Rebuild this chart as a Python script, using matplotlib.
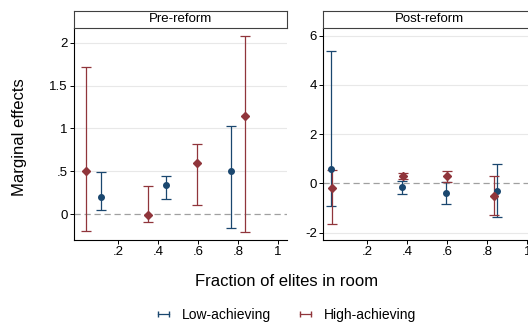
import numpy as np
import matplotlib.pyplot as plt
from matplotlib.lines import Line2D

# data: marginal effects with confidence intervals
pre_low_x = [0.115, 0.44, 0.763]
pre_low_y = [0.20, 0.34, 0.50]
pre_low_lo = [0.05, 0.18, -0.16]
pre_low_hi = [0.49, 0.44, 1.03]

pre_high_x = [0.042, 0.352, 0.593, 0.835]
pre_high_y = [0.50, -0.01, 0.60, 1.14]
pre_high_lo = [-0.20, -0.09, 0.11, -0.21]
pre_high_hi = [1.72, 0.33, 0.82, 2.08]

post_low_x = [0.02, 0.372, 0.595, 0.85]
post_low_y = [0.57, -0.16, -0.38, -0.30]
post_low_lo = [-0.90, -0.42, -0.82, -1.35]
post_low_hi = [5.37, 0.10, 0.05, 0.77]

post_high_x = [0.023, 0.377, 0.60, 0.835]
post_high_y = [-0.20, 0.30, 0.28, -0.50]
post_high_lo = [-1.63, 0.18, 0.05, -1.30]
post_high_hi = [0.55, 0.42, 0.52, 0.28]

x_ticks = [0.2, 0.4, 0.6, 0.8, 1.0]
x_ticklabels = [".2", ".4", ".6", ".8", "1"]
pre_yticks = [0, 0.5, 1, 1.5, 2]
pre_yticklabels = ["0", ".5", "1", "1.5", "2"]
post_yticks = [-2, 0, 2, 4, 6]
post_yticklabels = ["-2", "0", "2", "4", "6"]

blue = "#1a476f"
red = "#90353b"

plt.rcParams['font.family'] = ['Liberation Sans', 'DejaVu Sans']

W, H = 528, 323
fig = plt.figure(figsize=(W / 100, H / 100), dpi=100)
fig.patch.set_facecolor("white")


def px(x0, y0, x1, y1):
    # pixel box -> figure fraction rect
    return [x0 / W, 1 - y1 / H, (x1 - x0) / W, (y1 - y0) / H]


def draw_panel(ax, lx, ly, llo, lhi, hx, hy, hlo, hhi, ylim, yticks, yticklabels):
    ax.set_ylim(*ylim)
    ax.set_xlim(-0.02, 1.045)
    ax.set_yticks(yticks)
    ax.set_yticklabels(yticklabels)
    ax.set_xticks(x_ticks)
    ax.set_xticklabels(x_ticklabels)
    for t in yticks:
        if t != 0:
            ax.axhline(t, color="#e8e8e8", lw=0.8, zorder=0)
    ax.axhline(0, color="#a0a0a0", lw=0.9, ls=(0, (5, 3)), zorder=1)
    ly, lx = np.array(ly), np.array(lx)
    hy, hx = np.array(hy), np.array(hx)
    ax.errorbar(lx, ly, yerr=[ly - np.array(llo), np.array(lhi) - ly], fmt="o",
                color=blue, ms=4, lw=0.9, capsize=3.5, capthick=0.9, zorder=3)
    ax.errorbar(hx, hy, yerr=[hy - np.array(hlo), np.array(hhi) - hy], fmt="D",
                color=red, ms=4.5, lw=0.9, capsize=3.5, capthick=0.9, zorder=3)
    for s in ["top", "right"]:
        ax.spines[s].set_visible(False)
    for s in ["left", "bottom"]:
        ax.spines[s].set_linewidth(0.8)
    ax.tick_params(direction="out", length=3, width=0.7, labelsize=9.5, pad=1.5)
    ax.set_facecolor("white")


def draw_strip(rect, title):
    sax = fig.add_axes(rect)
    sax.set_xticks([])
    sax.set_yticks([])
    for s in sax.spines.values():
        s.set_linewidth(0.8)
        s.set_edgecolor("#404040")
    sax.text(0.5, 0.5, title, ha="center", va="center", fontsize=9.5, transform=sax.transAxes)


ax1 = fig.add_axes(px(74, 28, 287, 240))
draw_panel(ax1, pre_low_x, pre_low_y, pre_low_lo, pre_low_hi,
           pre_high_x, pre_high_y, pre_high_lo, pre_high_hi,
           (-0.30, 2.17), pre_yticks, pre_yticklabels)
draw_strip(px(74, 11, 287, 28), "Pre-reform")

ax2 = fig.add_axes(px(323.3, 28, 536.3, 240))
draw_panel(ax2, post_low_x, post_low_y, post_low_lo, post_low_hi,
           post_high_x, post_high_y, post_high_lo, post_high_hi,
           (-2.3, 6.31), post_yticks, post_yticklabels)
draw_strip(px(323.3, 11, 536.3, 28), "Post-reform")

fig.text(20 / W, 1 - 137 / H, "Marginal effects", rotation=90, ha="center", va="center", fontsize=12)
fig.text(287 / W, 1 - 282 / H, "Fraction of elites in room", ha="center", va="center", fontsize=12)

# legend with horizontal capped keys
handles = [Line2D([], [], color=blue, marker="|", ms=5, lw=0.9),
           Line2D([], [], color=red, marker="|", ms=5, lw=0.9)]
fig.legend(handles, ["Low-achieving", "High-achieving"], loc="center",
           bbox_to_anchor=(285 / W, 1 - 315 / H), ncol=2, numpoints=2, frameon=False,
           fontsize=10, handlelength=1.4, handletextpad=0.6, columnspacing=1.8)

fig.savefig("out.png", dpi=100)
